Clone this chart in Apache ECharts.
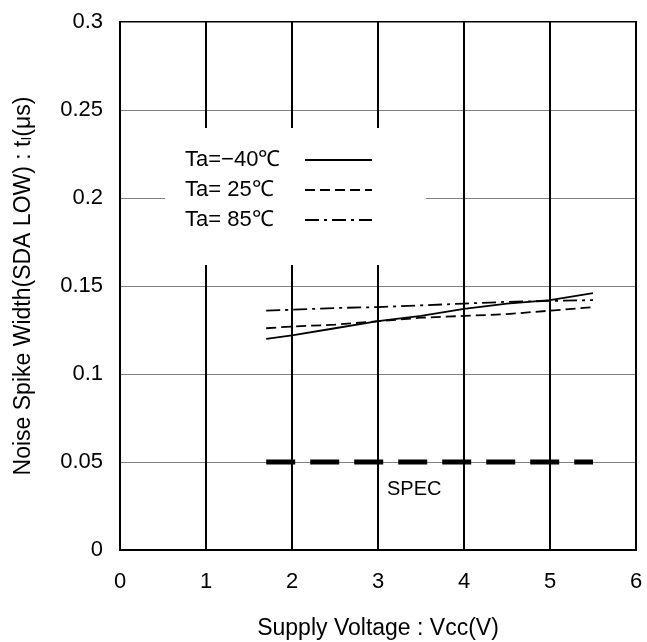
<!DOCTYPE html>
<html>
<head>
<meta charset="utf-8">
<script src="https://cdn.jsdelivr.net/npm/echarts@6/dist/echarts.min.js"></script>
<style>
html,body{margin:0;padding:0;background:#fff;}
#main{width:647px;height:642px;}
</style>
</head>
<body>
<div id="main"></div>
<script>
var vcc = [1.7, 2, 2.5, 3, 3.5, 4, 4.5, 5, 5.5];
var t_m40 = [0.120, 0.122, 0.126, 0.130, 0.133, 0.137, 0.140, 0.142, 0.146];
var t_25 = [0.126, 0.127, 0.128, 0.130, 0.132, 0.133, 0.134, 0.136, 0.138];
var t_85 = [0.136, 0.1365, 0.1375, 0.138, 0.139, 0.140, 0.141, 0.1415, 0.142];
var spec_x = [1.7, 5.5];
var spec_y = [0.05, 0.05];
var names = ['Ta=\u221240\u2103', 'Ta= 25\u2103', 'Ta= 85\u2103'];

function pairs(xs, ys){
	var out = [];
	for (var i = 0; i < xs.length; i++){
		out.push([xs[i], ys[i]]);
	}
	return out;
}

function make_line(name, ys, type){
	return {
		name: name,
		type: 'line',
		data: pairs(vcc, ys),
		symbol: 'none',
		showSymbol: false,
		color: '#000',
		lineStyle: {color: '#000', width: 1.8, type: type},
		z: 3
	};
}

var chart = echarts.init(document.getElementById('main'));
var font = 'Liberation Sans, Arial, sans-serif';

chart.setOption({
	animation: false,
	backgroundColor: '#fff',
	textStyle: {fontFamily: font},
	grid: {
		left: 120, right: 11, top: 22, bottom: 92,
		outerBoundsMode: 'none',
		containLabel: false,
		show: true, borderColor: '#000', borderWidth: 2
	},
	legend: {
		orient: 'vertical',
		left: 165, top: 128,
		align: 'right',
		backgroundColor: '#fff',
		padding: [21, 53, 34, 20],
		itemWidth: 67, itemHeight: 22, itemGap: 8,
		itemStyle: {opacity: 0, color: 'rgba(0,0,0,0)', borderWidth: 0},
		formatter: function(name){ return '{a|' + name + '}'; },
		textStyle: {
			fontSize: 22, color: '#000', fontFamily: font, lineHeight: 22,
			rich: {a: {fontSize: 22, color: '#000', fontFamily: font, width: 115, align: 'left'}}
		},
		data: names,
		z: 10
	},
	xAxis: {
		type: 'value',
		min: 0, max: 6, interval: 1,
		name: 'Supply Voltage : Vcc(V)',
		nameLocation: 'middle',
		nameGap: 67,
		nameTextStyle: {fontSize: 23, color: '#000', fontFamily: font},
		axisLine: {lineStyle: {color: '#000', width: 2}},
		axisTick: {show: false},
		axisLabel: {fontSize: 22, color: '#000', margin: 21, fontFamily: font},
		splitLine: {show: true, lineStyle: {color: '#000', width: 2}}
	},
	yAxis: {
		type: 'value',
		min: 0, max: 0.3, interval: 0.05,
		name: 'Noise Spike Width(SDA LOW) : t{s|I}(\u03bcs)',
		nameLocation: 'middle',
		nameGap: 85,
		nameTextStyle: {
			fontSize: 23, color: '#000', fontFamily: font,
			rich: {s: {fontSize: 14, color: '#000', fontFamily: font, padding: [8, 0, 0, 0]}}
		},
		axisLine: {lineStyle: {color: '#000', width: 2}},
		axisTick: {show: false},
		axisLabel: {fontSize: 22, color: '#000', margin: 17, fontFamily: font},
		splitLine: {show: true, lineStyle: {color: '#808080', width: 1}}
	},
	graphic: [{
		type: 'text',
		left: 387, top: 479,
		style: {text: 'SPEC', fontSize: 20, fill: '#000', fontFamily: font}
	}],
	series: [
		make_line(names[0], t_m40, 'solid'),
		make_line(names[1], t_25, [10, 5]),
		make_line(names[2], t_85, [14, 5, 3, 5]),
		{
			name: 'SPEC',
			type: 'line',
			data: pairs(spec_x, spec_y),
			symbol: 'none',
			lineStyle: {color: '#000', width: 5, type: [29, 15]},
			z: 3
		}
	]
});
</script>
</body>
</html>
